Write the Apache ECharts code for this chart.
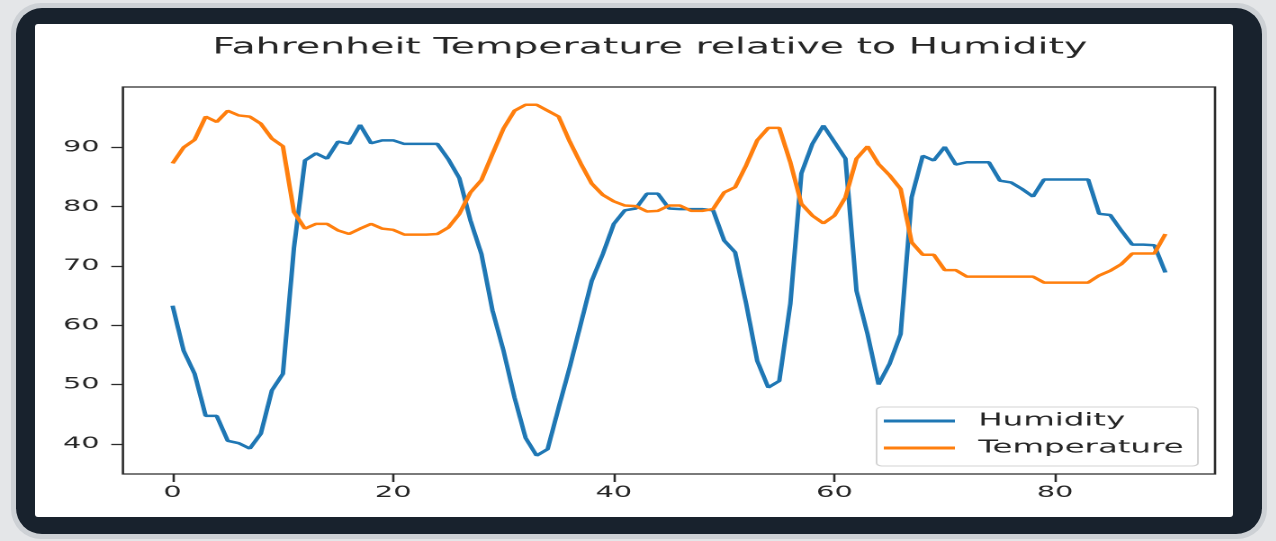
<!DOCTYPE html>
<html>
<head>
<meta charset="utf-8">
<script src="https://cdn.jsdelivr.net/npm/echarts@6/dist/echarts.min.js"></script>
<style>
  html, body { margin:0; padding:0; width:1276px; height:541px; overflow:hidden; background:#e4e6e8; }
  #ring { position:absolute; left:11px; top:3px; width:1256px; height:536px; border-radius:30px; background:#cdd1d5; }
  #frame { position:absolute; left:16px; top:8px; width:1246px; height:526px; border-radius:26px; background:#18222d; }
  #paper { position:absolute; left:35px; top:24px; width:1198px; height:493px; background:#ffffff; border-radius:3px; }
  #chart { position:absolute; left:0; top:0; width:709px; height:541px; transform:scaleX(1.8); transform-origin:0 0; }
</style>
</head>
<body>
<div id="ring"></div>
<div id="frame"></div>
<div id="paper"></div>
<div id="chart"></div>
<script>
// ---- data ----
const titleText = 'Fahrenheit Temperature relative to Humidity';
const seriesNames = ['Humidity', 'Temperature'];
const xTicks = [0, 20, 40, 60, 80];
const yTicks = [40, 50, 60, 70, 80, 90];

const humidity = [
  63.3, 55.7, 51.8, 44.7, 44.7, 40.5, 40.1, 39.2, 41.7, 49.0,
  51.8, 73.0, 87.8, 89.0, 88.1, 91.0, 90.6, 93.8, 90.7, 91.2,
  91.2, 90.6, 90.6, 90.6, 90.6, 88.0, 84.8, 77.7, 72.0, 62.5,
  55.7, 47.8, 41.0, 38.0, 39.1, 46.1, 52.9, 60.2, 67.5, 72.0,
  77.1, 79.4, 79.7, 82.2, 82.2, 79.7, 79.6, 79.6, 79.6, 79.4,
  74.3, 72.3, 63.6, 54.0, 49.5, 50.6, 63.6, 85.6, 90.6, 93.7,
  90.9, 88.1, 65.8, 58.5, 50.0, 53.5, 58.5, 81.6, 88.6, 87.8,
  90.1, 87.1, 87.5, 87.5, 87.5, 84.4, 84.1, 83.0, 81.7, 84.6,
  84.6, 84.6, 84.6, 84.6, 78.8, 78.6, 76.0, 73.6, 73.6, 73.5,
  68.9
];

const temperature = [
  87.3, 90.0, 91.3, 95.2, 94.3, 96.2, 95.4, 95.2, 94.0, 91.5,
  90.2, 79.1, 76.3, 77.1, 77.1, 76.0, 75.4, 76.3, 77.1, 76.3,
  76.1, 75.3, 75.3, 75.3, 75.4, 76.5, 78.8, 82.4, 84.5, 88.9,
  93.2, 96.2, 97.2, 97.2, 96.2, 95.2, 91.0, 87.3, 83.9, 82.0,
  80.9, 80.2, 80.1, 79.2, 79.3, 80.2, 80.2, 79.3, 79.3, 79.6,
  82.4, 83.3, 87.0, 91.2, 93.3, 93.3, 87.5, 80.5, 78.5, 77.2,
  78.5, 81.6, 88.1, 90.2, 87.2, 85.3, 83.0, 74.0, 71.9, 71.9,
  69.3, 69.3, 68.2, 68.2, 68.2, 68.2, 68.2, 68.2, 68.2, 67.2,
  67.2, 67.2, 67.2, 67.2, 68.4, 69.2, 70.3, 72.1, 72.1, 72.1,
  75.4
];

const toPairs = arr => arr.map((v, i) => [i, v]);

const chart = echarts.init(document.getElementById('chart'), null, { renderer: 'canvas', devicePixelRatio: 2 });
const font = 'DejaVu Sans';

chart.setOption({
  animation: false,
  backgroundColor: 'transparent',
  title: {
    text: titleText,
    left: 113,
    top: 32,
    textStyle: { fontFamily: font, fontSize: 21.9, fontWeight: 'normal', color: '#262626' }
  },
  legend: {
    data: seriesNames,
    orient: 'vertical',
    left: 487,
    top: 407,
    padding: [5, 8, 9, 4],
    itemGap: 9,
    itemWidth: 39.5,
    itemHeight: 3,
    icon: 'rect',
    backgroundColor: 'rgba(255,255,255,0.8)',
    borderColor: '#d2d2d2',
    borderWidth: 1,
    borderRadius: 3,
    textStyle: { fontFamily: font, fontSize: 18, color: '#262626', padding: [0, 0, 0, 8] }
  },
  grid: {
    left: 68.3, right: 34, top: 87, bottom: 67,
    show: true, borderColor: '#2b2b2b', borderWidth: 1.3, backgroundColor: 'transparent',
    containLabel: false
  },
  xAxis: {
    type: 'value',
    min: -4.5, max: 94.5,
    axisLine: { show: false, onZero: false },
    splitLine: { show: false },
    axisTick: { show: true, length: 8, inside: false, customValues: xTicks, lineStyle: { color: '#2b2b2b', width: 1.3 } },
    axisLabel: { customValues: xTicks, margin: 11, fontFamily: font, fontSize: 16, color: '#262626' }
  },
  yAxis: {
    type: 'value',
    min: 34.9, max: 100.2,
    axisLine: { show: false, onZero: false },
    splitLine: { show: false },
    axisTick: { show: true, length: 6.5, inside: false, customValues: yTicks, lineStyle: { color: '#2b2b2b', width: 1.3 } },
    axisLabel: { customValues: yTicks, margin: 13, fontFamily: font, fontSize: 16, color: '#262626' }
  },
  series: [
    {
      name: seriesNames[0], type: 'line', data: toPairs(humidity),
      symbol: 'none', lineStyle: { color: '#1f77b4', width: 2.5 }, itemStyle: { color: '#1f77b4' }
    },
    {
      name: seriesNames[1], type: 'line', data: toPairs(temperature),
      symbol: 'none', lineStyle: { color: '#ff7f0e', width: 2.5 }, itemStyle: { color: '#ff7f0e' }
    }
  ]
});
</script>
</body>
</html>
